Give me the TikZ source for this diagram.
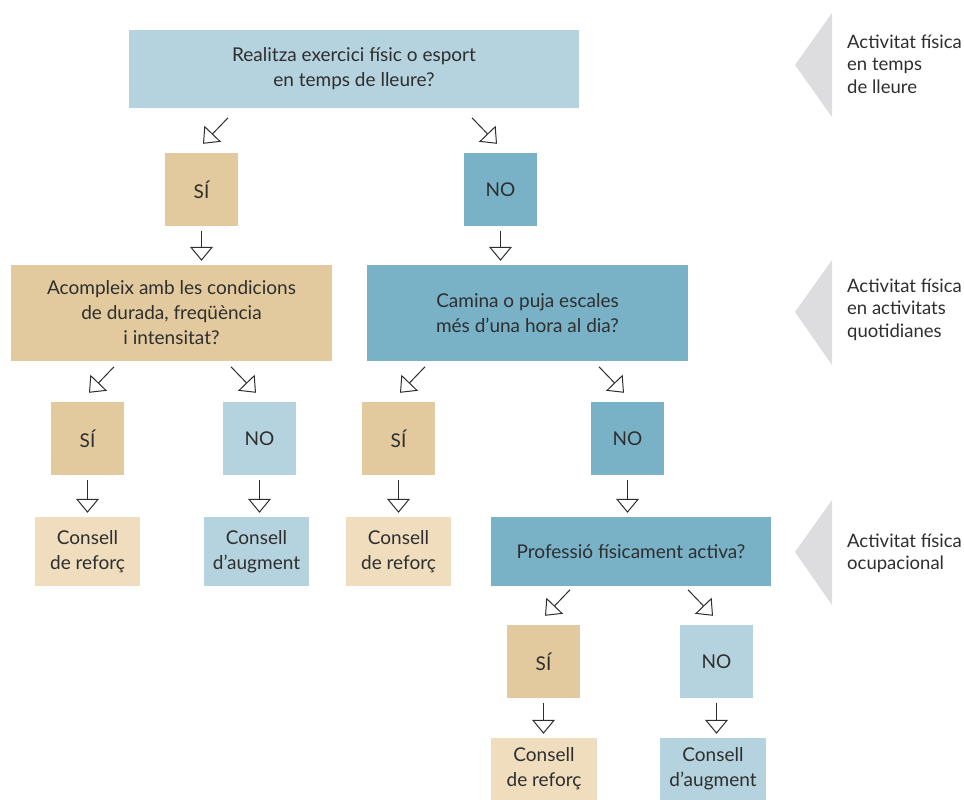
\documentclass[tikz,border=0pt]{standalone}
\usepackage{fontspec}
\setmainfont{Lato}
\usetikzlibrary{arrows.meta,calc}
\definecolor{lblue}{HTML}{B5D3DE}
\definecolor{teal}{HTML}{79B2C7}
\definecolor{tan}{HTML}{E2CA9E}
\definecolor{ltan}{HTML}{EFDDBE}
\definecolor{tri}{HTML}{DDDDE0}
\definecolor{ink}{HTML}{2E2E2E}
\tikzset{
  box/.style={rectangle, inner sep=0pt, align=center, text=ink,
    font=\fontsize{19}{25}\selectfont},
  sq/.style={box, minimum width=73pt, minimum height=73pt},
  cons/.style={box, minimum width=105pt, minimum height=69pt},
  arr/.style={draw=ink, line width=1pt, -{Triangle[open, length=14pt, width=23pt]}},
  side/.style={anchor=north west, inner sep=0pt, align=left, text=ink,
    font=\fontsize{18.5}{22.5}\selectfont},
}
\newcommand\darrL[1]{\draw[arr] ($(#1.north)+(26.5,-35)$) -- ($(#1.north)+(1.5,-9)$);}
\newcommand\darrR[1]{\draw[arr] ($(#1.north)+(-28.5,-35)$) -- ($(#1.north)+(-3.5,-9)$);}
\begin{document}
\begin{tikzpicture}[x=1pt,y=-1pt]
\useasboundingbox (0,0) rectangle (964,800);
% side triangles
\fill[tri] (795,65) -- (832,13) -- (832,117) -- cycle;
\fill[tri] (795,312) -- (832,260) -- (832,365) -- cycle;
\fill[tri] (795,552) -- (832,500) -- (832,605) -- cycle;
\node[side] (l1) at (847,34.5) {Activitat física\\en temps\\de lleure};
\node[side] (l2) at (847,278.5) {Activitat física\\en activitats\\quotidianes};
\node[side] (l3) at (847,533.5) {Activitat física\\ocupacional};
% boxes
\node[box, fill=lblue, minimum width=450pt, minimum height=78pt] (q1) at (354,69) {Realitza exercici físic o esport\\en temps de lleure?};
\node[sq, fill=tan] (s1) at (201.5,189.5) {SÍ};
\node[sq, fill=teal] (n1) at (500.5,189.5) {NO};
\node[box, fill=tan, minimum width=321pt, minimum height=96pt] (q2) at (171.5,313) {Acompleix amb les condicions\\de durada, freqüència\\i intensitat?};
\node[box, fill=teal, minimum width=321pt, minimum height=96pt] (q3) at (527.5,313) {Camina o puja escales\\més d’una hora al dia?};
\node[sq, fill=tan] (s2) at (87.5,438.5) {SÍ};
\node[sq, fill=lblue] (n2) at (259.5,438.5) {NO};
\node[sq, fill=tan] (s3) at (398.5,438.5) {SÍ};
\node[sq, fill=teal] (n3) at (627.5,438.5) {NO};
\node[cons, fill=ltan] (r1) at (87.5,551.5) {Consell\\de reforç};
\node[cons, fill=lblue] (a1) at (256.5,551.5) {Consell\\d’augment};
\node[cons, fill=ltan] (r2) at (398.5,551.5) {Consell\\de reforç};
\node[box, fill=teal, minimum width=280pt, minimum height=69pt] (q4) at (631,551.5) {Professió físicament activa?};
\node[sq, fill=tan] (s4) at (543.5,661.5) {SÍ};
\node[sq, fill=lblue] (n4) at (716.5,661.5) {NO};
\node[cons, fill=ltan, minimum width=106pt, minimum height=62pt] (r3) at (544,769) {Consell\\de reforç};
\node[cons, fill=lblue, minimum width=106pt, minimum height=62pt] (a2) at (713,769) {Consell\\d’augment};
% diagonal arrows
\darrL{s1} \darrR{n1}
\darrL{s2} \darrR{n2}
\darrL{s3} \darrR{n3}
\darrL{s4} \darrR{n4}
% vertical arrows
\foreach \a/\b in {s1/q2, n1/q3, s2/r1, n2/a1, s3/r2, n3/q4, s4/r3, n4/a2}
  \draw[arr, shorten <=5pt, shorten >=4pt] (\a.south) -- (\a.south |- \b.north);
\end{tikzpicture}
\end{document}
